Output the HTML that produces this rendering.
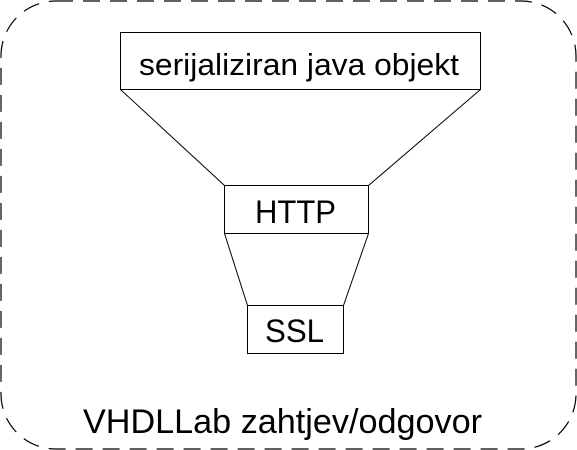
<!DOCTYPE html>
<html><head><style>html,body{margin:0;padding:0;background:#fff}svg{display:block}</style></head>
<body>
<svg width="577" height="450" viewBox="0 0 577 450" xmlns="http://www.w3.org/2000/svg" font-family="Liberation Sans, sans-serif" fill="#000">
<rect x="1" y="1" width="575" height="448" rx="55" ry="55" fill="none" stroke="#000" stroke-width="1.2" stroke-dasharray="17,10"/>
<rect x="120.5" y="32.5" width="360" height="57" fill="none" stroke="#000"/>
<rect x="224.5" y="185.5" width="144" height="48" fill="none" stroke="#000"/>
<rect x="247.5" y="305.5" width="96" height="48" fill="none" stroke="#000"/>
<g stroke="#000" stroke-width="1">
<line x1="120.5" y1="89.5" x2="224.5" y2="185.5"/>
<line x1="480.5" y1="89.5" x2="368.5" y2="185.5"/>
<line x1="224.5" y1="233.5" x2="247.5" y2="305.5"/>
<line x1="368.5" y1="233.5" x2="343.5" y2="305.5"/>
</g>
<text x="139" y="75" font-size="31" textLength="320" lengthAdjust="spacingAndGlyphs">serijaliziran java objekt</text>
<text x="255" y="223" font-size="32" textLength="81" lengthAdjust="spacingAndGlyphs">HTTP</text>
<text x="265" y="342" font-size="32" textLength="59" lengthAdjust="spacingAndGlyphs">SSL</text>
<text x="83" y="433" font-size="34" textLength="399" lengthAdjust="spacingAndGlyphs">VHDLLab zahtjev/odgovor</text>
</svg>
</body></html>
